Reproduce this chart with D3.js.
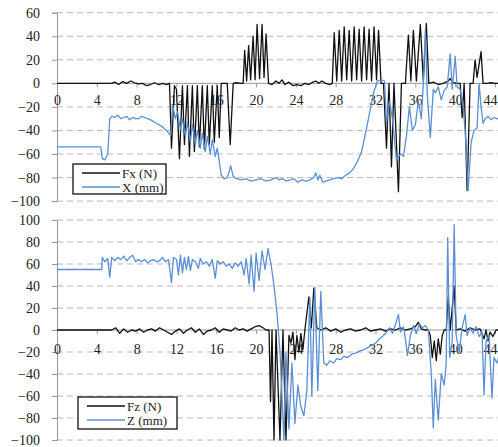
<!DOCTYPE html>
<html><head><meta charset="utf-8">
<script src="https://cdn.jsdelivr.net/npm/d3@7"></script>
<style>
body{margin:0;background:#fff;}
svg{display:block;}
.tick text{font-family:"Liberation Serif","Times New Roman",serif;font-size:14px;fill:#222;}
</style></head>
<body>
<svg id="c" width="498" height="447"></svg>
<script>
// ---- data ----
const xTicks = [0,4,8,12,16,20,24,28,32,36,40,44];
const topYTicks = [-100,-80,-60,-40,-20,0,20,40,60];
const botYTicks = [-100,-80,-60,-40,-20,0,20,40,60,80,100];

const fxT = [0,5.5,5.8,6.2,6.6,7.0,7.4,7.8,8.2,8.6,9.0,9.4,9.8,10.2,10.6,11.0,11.3,
 11.5,11.8,12.0,12.3,12.6,12.8,13.1,13.3,13.6,13.8,14.1,14.3,14.6,14.8,15.1,15.3,15.6,15.8,16.1,16.3,16.5,16.8,17.1,17.4,17.7,18.0,18.5,18.7,
 18.85,19.05,19.25,19.45,19.7,19.9,20.1,20.35,20.6,20.8,21.0,21.25,21.6,22.0,22.3,22.6,22.9,23.3,23.7,24.1,24.5,24.9,25.3,25.7,26.0,26.3,26.6,27.0,27.4,27.65,
 27.85,28.1,28.35,28.6,28.85,29.1,29.35,29.6,29.85,30.1,30.35,30.6,30.85,31.1,31.35,31.6,31.85,32.1,32.3,32.55,32.8,33.1,33.35,33.6,33.85,34.3,34.6,35.0,
 35.3,35.55,35.8,36.1,36.5,36.8,37.1,37.35,37.8,38.3,38.8,39.3,39.5,39.7,40.1,40.5,40.7,40.9,41.2,41.5,41.8,42.0,42.2,42.6,42.8,43.2,43.6,44.0,44.5];
const fxV = [0,0,1,-1,1.5,0,2,0.5,-0.5,0,-2,-1,0.5,-1,0,-1,0,
 -55,-2,-5,-64,-2,-52,-2,-62,-2,-58,-2,-54,-2,-56,-2,-52,-2,-50,-2,-46,0,0,0,-52,0,0.5,0,0,
 28,2,32,3,40,3,50,4,50,5,42,0,-1,2,0,3,-1,1,-2,-1,-2,0,-1,1,2,0,2,0,-1,0,
 43,2,45,2,48,3,45,2,48,3,46,2,48,3,46,2,48,3,45,0,0,-55,0,-71,0,-92,0,0,
 41,2,45,2,50,2,51,0,1,-1,0,2,4,1,0,0,-29,0,-91,0,0,20,5,27,0,0,0.5,0,0];

const xT = [0,4.4,4.55,4.8,5.1,5.3,5.5,5.8,6.1,6.4,6.7,7.0,7.3,7.6,7.9,8.2,8.5,8.8,9.1,9.4,9.8,10.2,10.6,11.0,11.3,11.45,11.6,
 11.9,12.1,12.4,12.6,12.9,13.1,13.4,13.6,13.9,14.1,14.4,14.6,14.9,15.1,15.4,15.6,15.9,16.1,16.3,16.5,16.8,17.1,17.3,17.45,17.7,18.0,18.5,19.0,19.5,20.0,20.5,21.0,21.5,22.0,
 22.3,22.7,23.0,23.4,23.8,24.2,24.6,25.0,25.4,25.8,26.0,26.2,26.4,26.7,27.0,27.4,27.8,28.2,28.6,29.0,29.4,29.8,30.2,30.6,31.0,31.4,31.8,32.2,32.6,32.9,
 33.1,33.4,33.7,34.1,34.5,34.8,35.1,35.4,35.7,36.0,36.3,36.6,36.8,37.0,37.2,37.5,37.8,38.0,38.3,38.6,38.9,39.2,39.5,39.7,40.0,40.2,40.5,40.8,41.0,41.3,41.6,41.9,
 42.2,42.4,42.6,42.8,43.0,43.3,43.6,43.9,44.2,44.5];
const xV = [-54,-54,-64,-65,-60,-30,-28,-29,-27,-30,-29,-28,-31,-29,-30,-30,-28,-29,-30,-31,-33,-35,-37,-40,-43,-44,-18,
 -30,-24,-40,-30,-45,-33,-50,-35,-52,-40,-55,-42,-58,-45,-60,-48,-62,-55,-66,-78,-81,-80,-75,-70,-79,-81,-82,-81,-83,-82,-81,-83,-82,-80,
 -82,-81,-83,-82,-81,-84,-82,-83,-82,-80,-76,-82,-78,-84,-83,-82,-81,-80,-81,-78,-76,-72,-66,-58,-42,-25,-8,2,3,2,
 -34,-15,-30,-65,-60,-62,-45,-20,-40,-35,-15,-30,0,45,-10,-46,-5,-8,-3,-14,-6,-3,25,-5,23,-3,-5,-20,-40,-91,-50,-40,
 -38,0,-20,-34,-30,-28,-31,-29,-30,-31];

const fzT = [0,5.5,5.9,6.3,6.7,7.1,7.5,7.9,8.3,8.7,9.1,9.5,9.9,10.3,10.7,11.1,11.5,11.9,12.3,12.7,13.1,13.5,13.9,14.3,14.7,15.1,15.5,15.9,16.3,16.7,17.1,17.5,17.9,18.3,18.7,19.1,19.5,19.9,20.3,20.7,21.0,21.3,
 21.45,21.6,21.8,22.0,22.4,22.7,23.0,23.3,23.5,23.7,23.9,24.1,24.3,24.5,24.7,24.9,25.3,25.55,25.8,26.1,26.5,27,27.5,28,28.5,29,29.5,30,30.5,31,31.5,32,32.5,33,33.5,34,34.5,35,35.5,36,36.3,36.6,37,37.3,
 37.5,37.7,37.9,38.1,38.3,38.5,38.7,38.9,39.1,39.3,39.5,39.9,40.1,40.5,41,41.5,42,42.5,42.9,43.1,43.3,43.5,43.8,44.1,44.5];
const fzV = [0,0,2,-3,1,-2,0,-1,1,-2,0,1,-1,2,0,-2,-4,-1,1,-3,0,2,-2,1,-4,-1,0,2,-2,1,0,-1,2,0,1,-1,1,3,4,2,0,0,
 -65,0,-100,0,-100,0,-100,-5,-12,-2,-27,-5,-20,-3,-18,0,30,2,38,2,0,2,-1,1,-2,0,1,-1,0,2,-1,0,1,-1,1,0,2,0,1,3,7,1,0,0,
 -5,-25,-10,-28,-8,-22,-5,0,0,30,0,40,0,1,-1,2,0,1,-8,0,-10,-2,-6,0,0];

const zT = [0,4.5,4.55,4.8,5.1,5.3,5.5,5.8,6.1,6.4,6.7,7.0,7.3,7.6,7.9,8.2,8.5,8.8,9.1,9.4,9.7,10.0,10.3,10.6,10.9,11.2,11.5,11.7,12.0,12.2,12.4,12.6,12.8,13.0,13.2,13.4,13.6,13.9,14.2,14.4,14.7,15.0,15.3,15.6,15.9,16.1,16.4,16.7,17.0,17.3,17.6,17.9,18.2,18.5,
 18.8,19.0,19.3,19.5,19.8,20.0,20.3,20.6,20.9,21.2,21.5,21.8,22.1,22.4,22.6,22.8,23.0,23.3,23.6,23.9,24.2,24.5,24.8,25.1,25.4,25.6,25.9,26.2,26.5,26.8,27.1,27.4,27.8,28.1,28.5,28.8,29.2,29.6,30.0,30.4,30.8,31.2,31.6,32.0,32.4,32.8,33.1,33.4,33.7,34.0,34.3,34.5,34.8,35.0,35.2,35.5,35.8,36.1,36.4,36.7,37.0,37.3,
 37.6,37.8,38.0,38.3,38.6,38.9,39.1,39.25,39.45,39.7,39.9,40.1,40.4,40.7,41.0,41.2,41.5,41.8,42.1,42.4,42.7,42.9,43.1,43.4,43.7,43.9,44.2,44.5];
const zV = [55,55,66,62,65,48,66,63,66,64,67,63,66,68,62,64,62,64,61,63,64,62,63,66,62,64,43,66,64,50,68,52,66,55,67,54,64,62,56,65,60,62,58,64,47,63,60,62,58,60,56,61,58,62,
 50,65,42,68,35,70,45,72,55,74,60,40,15,-20,-60,-100,-20,-90,-30,-85,-50,-70,-78,-55,30,-60,39,-55,35,-30,-32,-28,-30,-26,-27,-24,-25,-22,-21,-19,-18,-16,-14,-12,-8,-5,-2,2,-3,5,14,-2,3,-8,-23,-5,4,-3,6,2,4,0,
 -40,-89,-45,-82,-40,-50,-30,84,-25,-10,96,-5,-20,2,14,-5,2,-3,3,-6,-2,-59,-10,-5,-62,-25,-30,-20];

// ---- layout ----
const svg = d3.select("#c");
const W = 498;
const x = d3.scaleLinear().domain([0,44]).range([57,495]);
const yTop = d3.scaleLinear().domain([-100,60]).range([201.1,12.7]);
const yBot = d3.scaleLinear().domain([-100,100]).range([440,220]);
const BLUE = "#5b8fd4", BLACK = "#111";
const serif = '"Liberation Serif","Times New Roman",serif';

function panel(id, y, yTicks, series, legend, padX){
  const g = svg.append("g");
  const [y0,y1] = [y(y.domain()[0]), y(y.domain()[1])];
  // grid
  g.append("g").selectAll("line").data(yTicks.filter(v=>v!==0)).join("line")
    .attr("x1",57).attr("x2",W).attr("y1",d=>y(d)).attr("y2",d=>y(d))
    .attr("stroke","#b8b8b8").attr("stroke-dasharray","6,4").attr("stroke-width",1);
  // y axis
  const ya = g.append("g").attr("transform","translate(57,0)")
    .call(d3.axisLeft(y).tickValues(yTicks).tickSize(5).tickPadding(12));
  ya.select(".domain").attr("stroke","#999");
  ya.selectAll(".tick line").attr("stroke","#999");
  // x axis at 0
  const xa = g.append("g").attr("transform",`translate(0,${y(0)})`)
    .call(d3.axisBottom(x).tickValues(xTicks).tickSize(4).tickPadding(padX));
  xa.select(".domain").attr("d",`M57,0H${W}`).attr("stroke","#999");
  xa.selectAll(".tick line").attr("stroke","#999");
  // keep the last tick label inside the picture
  xa.selectAll(".tick text").filter(d=>d===44).attr("text-anchor","end").attr("dx","2");
  // clip
  svg.append("clipPath").attr("id",id).append("rect")
    .attr("x",57).attr("y",y1-1).attr("width",W-57).attr("height",y0-y1+2);
  const lines = g.append("g").attr("clip-path",`url(#${id})`);
  series.forEach(s=>{
    const pts = s.t.map((t,i)=>[t,s.v[i]]);
    lines.append("path").datum(pts)
      .attr("d", d3.line().x(d=>x(d[0])).y(d=>y(Math.max(y.domain()[0],d[1]))))
      .attr("fill","none").attr("stroke",s.color).attr("stroke-width",s.w)
      .attr("stroke-linejoin","round");
  });
  // legend
  const L = g.append("g");
  L.append("rect").attr("x",legend.x).attr("y",legend.y).attr("width",legend.w).attr("height",legend.h)
    .attr("fill","#fff").attr("stroke","#222").attr("stroke-width",1.4);
  series.forEach((s,i)=>{
    const ly = legend.y + 9 + i*14;
    L.append("line").attr("x1",legend.x+9).attr("x2",legend.x+47).attr("y1",ly).attr("y2",ly)
      .attr("stroke",s.color).attr("stroke-width",1.4);
    L.append("text").attr("x",legend.x+49).attr("y",ly+4.5).text(s.name)
      .attr("font-family",serif).attr("font-size",13).attr("fill","#222");
  });
}

panel("clipTop", yTop, topYTicks, [
  {t:fxT, v:fxV, color:BLACK, w:1.3, name:"Fx (N)"},
  {t:xT, v:xV, color:BLUE, w:1.3, name:"X (mm)"}
], {x:73,y:164,w:93,h:30}, 8);

panel("clipBot", yBot, botYTicks, [
  {t:fzT, v:fzV, color:BLACK, w:1.3, name:"Fz (N)"},
  {t:zT, v:zV, color:BLUE, w:1.3, name:"Z (mm)"}
], {x:78,y:397,w:99,h:32}, 10);
</script>
</body></html>
